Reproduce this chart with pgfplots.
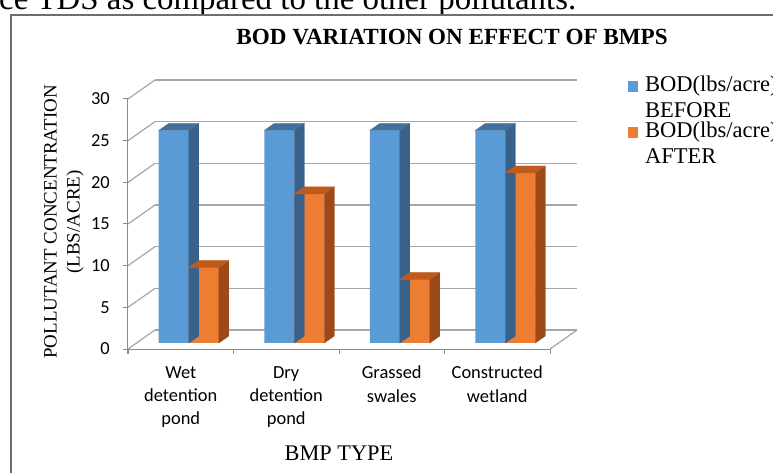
\documentclass[border=0pt]{standalone}
\usepackage{pgfplots}
\pgfplotsset{compat=1.18}
\usepackage{pgfplotstable}
\usepackage{fontspec}
\setmainfont{Liberation Serif}
\newfontfamily\calibri{Carlito}
\definecolor{barblue}{HTML}{5B9BD5}
\definecolor{bluetop}{HTML}{41719C}
\definecolor{blueside}{HTML}{38618C}
\definecolor{barorange}{HTML}{ED7D31}
\definecolor{orangetop}{HTML}{C0591C}
\definecolor{orangeside}{HTML}{9C4A1A}
\definecolor{gridc}{HTML}{A6A6A6}
\definecolor{axisc}{HTML}{8C8C8C}
\definecolor{framec}{HTML}{6E6E6E}
\pgfdeclareplotmark{blank}{}

\pgfplotstableread{
x before after
0 25.5 9.05
1 25.5 17.9
2 25.5 7.6
3 25.5 20.4
}\bod

\begin{document}
\begin{tikzpicture}
\useasboundingbox (0,0) rectangle (773bp,473bp);
\clip (0,0) rectangle (773bp,473bp);
\fill[white] (0,0) rectangle (773bp,473bp);
\node[anchor=base west, inner sep=0pt, font=\fontsize{33}{40}\selectfont] at (-1bp,463bp) {ce TDS as compared to the other pollutants.};
\draw[framec, line width=1.5bp] (11bp,-10bp) rectangle (800bp,458bp);
\begin{axis}[
  at={(128bp,124bp)}, anchor=south west,
  scale only axis, width=422bp, height=250bp,
  xmin=-0.5, xmax=3.5, ymin=0, ymax=30,
  clip=false,
  axis x line*=bottom, axis y line*=left,
  axis line style={axisc, line width=1bp},
  ytick={0,5,...,30},
  xtick={0,1,2,3},
  xticklabels={{Wet\\detention\\pond},{Dry\\detention\\pond},{Grassed\\swales},{Constructed\\wetland}},
  minor xtick={-0.5,0.5,1.5,2.5,3.5},
  tick align=outside,
  major tick length=5bp, minor tick length=5bp,
  tick style={axisc, line width=1bp},
  major x tick style={draw=none},
  /pgf/number format/assume math mode=true,
  yticklabel style={font=\calibri\fontsize{18.5}{22}\selectfont, inner sep=0pt, xshift=-13bp},
  xticklabel style={font=\calibri\fontsize{18.5}{23.5}\selectfont, align=center, inner sep=0pt, yshift=-12bp},
  title={BOD VARIATION ON EFFECT OF BMPS},
  title style={at={(axis description cs:0.768,1.22)}, anchor=base, yshift=-6bp, font=\bfseries\fontsize{23.2}{27}\selectfont},
  xlabel={BMP TYPE},
  xlabel style={at={(axis description cs:0.5,0)}, anchor=base, yshift=-111bp, font=\fontsize{22.4}{26}\selectfont},
  ylabel={POLLUTANT CONCENTRATION\\(LBS/ACRE)},
  ylabel style={at={(axis description cs:-0.152,0.508)}, anchor=center, align=center, font=\fontsize{19}{23}\selectfont},
  legend cell align=left,
  legend style={draw=none, fill=none, at={(axis description cs:1.1777,1.10)}, anchor=north west,
    font=\fontsize{22.6}{26}\selectfont, nodes={inner sep=0pt, align=left}, column sep=7bp, row sep=3bp},
]
% back wall, side wall and floor
\pgfplotsinvokeforeach{0,5,...,30}{
  \draw[gridc, line width=1.2bp] ([shift={(27bp,19bp)}]axis cs:-0.5,#1) -- ([shift={(27bp,19bp)}]axis cs:3.5,#1);
  \draw[gridc, line width=1.2bp] (axis cs:-0.5,#1) -- ++(27bp,19bp);
}
\draw[gridc, line width=1.2bp] (axis cs:3.5,0) -- ++(27bp,19bp);

% BEFORE: front faces
\addplot[ybar, bar width=30bp, bar shift=-7bp, fill=barblue, draw=none, yshift=6bp,
  legend image code/.code={\fill[barblue] (0bp,0bp) rectangle (10bp,11bp);}]
  table[x=x, y=before] {\bod};
\addlegendentry{BOD(lbs/acre)\\BEFORE}
% BEFORE: side and top faces
\addplot[forget plot, scatter, only marks, mark=blank,
  visualization depends on={\thisrow{before} \as \barval},
  scatter/@pre marker code/.code={%
    \pgfmathsetmacro{\lo}{6-\barval*250/30}%
    \pgfmathsetmacro{\lob}{13-\barval*250/30}%
    \fill[blueside] (8bp,6bp) -- (18bp,13bp) -- (18bp,\lob bp) -- (8bp,\lo bp) -- cycle;
    \fill[bluetop] (-22bp,6bp) -- (8bp,6bp) -- (18bp,13bp) -- (-12bp,13bp) -- cycle;
  },
  scatter/@post marker code/.code={}]
  table[x=x, y=before] {\bod};

% AFTER: front faces
\addplot[ybar, bar width=30bp, bar shift=23bp, fill=barorange, draw=none, yshift=6bp,
  legend image code/.code={\fill[barorange] (0bp,0bp) rectangle (10bp,11bp);}]
  table[x=x, y=after] {\bod};
\addlegendentry{BOD(lbs/acre)\\AFTER}
% AFTER: side and top faces
\addplot[forget plot, scatter, only marks, mark=blank,
  visualization depends on={\thisrow{after} \as \barval},
  scatter/@pre marker code/.code={%
    \pgfmathsetmacro{\lo}{6-\barval*250/30}%
    \pgfmathsetmacro{\lob}{13-\barval*250/30}%
    \fill[orangeside] (38bp,6bp) -- (48bp,13bp) -- (48bp,\lob bp) -- (38bp,\lo bp) -- cycle;
    \fill[orangetop] (8bp,6bp) -- (38bp,6bp) -- (48bp,13bp) -- (18bp,13bp) -- cycle;
  },
  scatter/@post marker code/.code={}]
  table[x=x, y=after] {\bod};
\end{axis}
\end{tikzpicture}
\end{document}
